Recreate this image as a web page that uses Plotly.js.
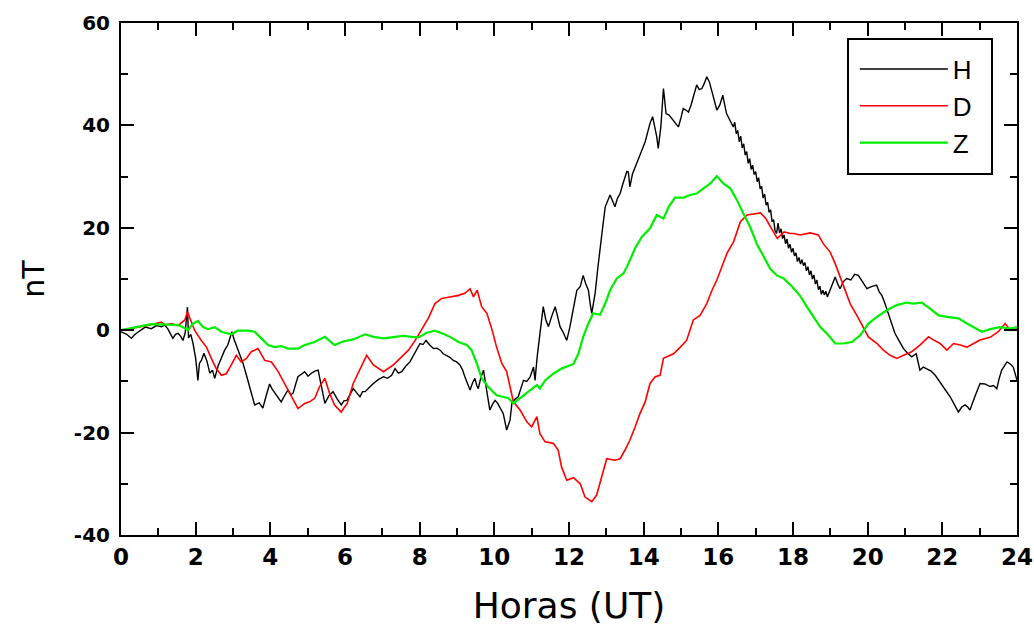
<!DOCTYPE html>
<html>
<head>
<meta charset="utf-8">
<script src="https://cdn.plot.ly/plotly-3.0.1.min.js"></script>
<style>html,body{margin:0;padding:0;background:#fff;}#chart{width:1034px;height:626px;}</style>
</head>
<body>
<div id="chart"></div>
<script>
// Hours (UT) and nT values
const H_t = [0,0.15,0.28,0.35,0.45,0.54,0.65,0.81,0.95,1.08,1.17,1.25,1.39,1.46,1.53,1.60,1.66,1.72,1.78,1.81,1.87,1.93,2.00,2.06,2.10,2.16,2.22,2.30,2.38,2.45,2.51,2.60,2.68,2.77,2.86,2.97,3.03,3.09,3.18,3.27,3.36,3.45,3.52,3.58,3.70,3.80,3.90,3.98,4.05,4.12,4.20,4.29,4.38,4.47,4.55,4.61,4.68,4.74,4.83,4.92,5.01,5.10,5.19,5.28,5.37,5.46,5.57,5.68,5.79,5.90,5.97,6.05,6.14,6.22,6.31,6.40,6.47,6.54,6.65,6.76,6.90,7.03,7.14,7.25,7.34,7.43,7.52,7.63,7.74,7.83,7.92,8.01,8.09,8.17,8.27,8.37,8.46,8.55,8.63,8.72,8.81,8.90,8.99,9.08,9.15,9.21,9.28,9.35,9.42,9.48,9.53,9.57,9.64,9.71,9.80,9.88,9.95,10.02,10.09,10.15,10.24,10.33,10.38,10.42,10.47,10.55,10.64,10.71,10.78,10.87,10.96,11.05,11.09,11.15,11.21,11.31,11.38,11.45,11.54,11.63,11.70,11.76,11.85,11.94,12.02,12.07,12.12,12.21,12.30,12.38,12.45,12.52,12.57,12.61,12.66,12.70,12.77,12.83,12.90,12.97,13.04,13.10,13.17,13.23,13.30,13.37,13.44,13.50,13.55,13.59,13.63,13.70,13.77,13.84,13.90,13.97,14.04,14.10,14.17,14.24,14.30,14.35,14.39,14.46,14.53,14.57,14.60,14.68,14.75,14.84,14.93,15.00,15.06,15.13,15.20,15.27,15.33,15.42,15.49,15.56,15.63,15.69,15.76,15.82,15.90,15.96,16.04,16.12,16.17,16.22,16.31,16.40,16.44,16.48,16.52,16.56,16.60,16.64,16.68,16.72,16.76,16.80,16.84,16.88,16.92,16.96,17.00,17.04,17.08,17.12,17.16,17.20,17.24,17.28,17.32,17.36,17.40,17.44,17.48,17.52,17.56,17.60,17.64,17.68,17.72,17.76,17.80,17.84,17.88,17.92,17.96,18.00,18.04,18.08,18.12,18.16,18.20,18.24,18.28,18.32,18.36,18.40,18.44,18.48,18.52,18.56,18.60,18.64,18.68,18.72,18.76,18.80,18.84,18.88,18.92,18.96,19.04,19.13,19.20,19.26,19.35,19.44,19.55,19.65,19.75,19.87,19.98,20.10,20.24,20.31,20.38,20.45,20.51,20.62,20.73,20.85,20.96,21.07,21.18,21.30,21.35,21.40,21.49,21.58,21.70,21.81,21.92,22.03,22.12,22.21,22.32,22.43,22.52,22.61,22.68,22.74,22.87,23.01,23.14,23.28,23.37,23.46,23.52,23.59,23.66,23.73,23.82,23.90,24.0];
const H_v = [-0.3,-0.8,-1.6,-1.0,-0.4,0,0.6,0.3,0.9,0.65,1.0,0.3,-1.6,-0.8,-0.6,-1.2,-2,-0.5,4.5,-1.5,-0.8,-2.6,-5.5,-9.8,-6.5,-5.8,-4.5,-6.0,-8.4,-7.8,-9.4,-7.0,-5.5,-4.0,-2.9,-0.3,-1.8,-2.9,-4.5,-6.5,-8.8,-11,-13.0,-14.6,-14.2,-15.2,-12.5,-10.5,-11.5,-12.3,-13.2,-14,-12.8,-11.7,-12.6,-12.3,-10.5,-9.1,-8.6,-8.1,-9.0,-8.4,-8.0,-7.8,-11.0,-14.3,-12.8,-12.0,-13.4,-14.6,-13.8,-13.7,-12.5,-11.4,-12.2,-13.0,-12.0,-12.0,-11.2,-10.4,-9.6,-9.1,-9.4,-8.8,-7.5,-8.4,-8.1,-7.0,-6.2,-5.0,-3.9,-2.6,-2.8,-2.0,-2.9,-3.6,-3.5,-3.9,-4.6,-4.9,-5.3,-5.9,-6.2,-6.8,-7.8,-9.1,-10.5,-11.7,-10.2,-9.4,-10.8,-11.4,-9.2,-7.8,-12.0,-15.6,-14.5,-13.7,-14.3,-15.0,-16.3,-19.5,-18.5,-17.6,-14.3,-13.5,-13.0,-11.5,-9.8,-10.0,-9.1,-7.2,-9.8,-5.0,-1.3,4.6,2.0,0.7,2.8,4.6,2.5,0.7,-0.5,-2.0,0.5,2.6,3.9,7.8,8.5,10.7,9.0,7.8,5.0,3.3,5.5,7.2,12.0,16.3,20.0,24.1,25.5,26.4,25.2,24.1,25.8,26.7,28.5,29.9,31.0,30.9,28,30.5,31.9,33.0,34.5,35.5,36.8,38.6,40.4,41.7,39.5,37.8,35.5,39.7,47.2,44.5,42.3,42.0,41.3,40.5,39.7,41.5,43.3,43.0,42.6,44.0,45.6,47.9,47.0,47.2,48.3,49.5,48.5,46.9,44.5,43.0,44.0,45.9,44.0,42.3,41.0,39.7,40.6,38.4,39.0,36.8,37.9,35.6,36.4,34.2,34.9,32.6,33.5,31.4,32.2,30.4,31.0,29.0,29.8,27.6,28.1,25.8,26.6,24.4,25.0,23.0,23.5,21.2,21.6,19.4,18.9,20.9,19.0,19.8,17.9,18.6,16.9,17.8,16.0,16.8,15.2,16.0,14.5,15.1,13.4,14.2,12.9,13.8,12.6,13.2,11.6,12.4,10.8,11.6,10.0,10.8,9.0,9.8,7.9,8.6,7.0,7.8,6.9,7.6,6.5,7.2,8.5,10.4,9.0,8.1,9.5,10.1,9.8,10.9,10.7,9.4,8.1,8.5,8.8,7.5,6.8,5.5,4.2,1.8,-0.6,-2.2,-3.6,-4.5,-5.2,-4.6,-6.5,-7.8,-7.2,-7.5,-8.0,-8.8,-10.0,-11,-12.0,-13,-14.5,-16,-15.0,-14.6,-15.0,-15.6,-13.0,-10.4,-10.5,-11,-10.8,-11.4,-9.5,-7.8,-7.0,-6.2,-6.6,-7.2,-9.8];

const D_t = [0,0.2,0.46,0.72,0.9,1.08,1.2,1.35,1.53,1.71,1.78,1.85,1.97,2.15,2.29,2.42,2.55,2.69,2.82,2.95,3.09,3.22,3.36,3.49,3.67,3.85,4.03,4.21,4.38,4.56,4.74,4.92,5.05,5.19,5.32,5.46,5.59,5.72,5.90,5.96,6.06,6.22,6.40,6.58,6.76,7.03,7.29,7.47,7.70,7.88,8.05,8.23,8.41,8.59,8.81,9.04,9.21,9.35,9.44,9.54,9.66,9.80,9.93,10.06,10.20,10.33,10.42,10.51,10.69,10.87,11.00,11.14,11.22,11.36,11.58,11.71,11.80,11.94,12.12,12.30,12.43,12.61,12.74,12.88,13.01,13.23,13.37,13.50,13.63,13.77,13.90,14.04,14.17,14.31,14.44,14.53,14.62,14.80,14.98,15.15,15.33,15.51,15.69,15.83,15.96,16.10,16.23,16.41,16.59,16.77,16.95,17.13,17.27,17.40,17.58,17.76,17.92,18.03,18.19,18.46,18.68,18.81,18.99,19.13,19.26,19.40,19.53,19.71,19.89,20.02,20.25,20.42,20.60,20.78,20.96,21.18,21.40,21.63,21.76,21.94,22.12,22.30,22.48,22.66,22.84,23.01,23.28,23.50,23.68,23.82,24.0];
const D_v = [0,0.3,0.6,0.9,1.2,1.6,1.0,1.3,0.9,2.0,3.6,2.3,0,-2,-3.3,-5.5,-7.5,-8.8,-8.5,-6.8,-4.9,-6.2,-5.5,-4.2,-3.6,-5.9,-6.2,-8.1,-10.4,-13,-15.3,-14.3,-14.0,-13.3,-11,-9.4,-12.4,-14.6,-16,-15.3,-14.3,-10.4,-7.5,-4.9,-6.8,-8.1,-6.8,-5.5,-3.9,-2,0,2.3,5.2,6.2,6.5,6.8,7.2,8.1,6.5,7.8,4.6,3.3,0.3,-3.3,-6.5,-8.1,-11,-14,-15.6,-17.9,-18.9,-16.9,-20.2,-21.8,-22.1,-23.4,-26.7,-29.3,-28.8,-30,-32.6,-33.5,-32.2,-28.6,-25.1,-25.4,-25.1,-23.4,-21.5,-18.9,-16.3,-14,-10.4,-9.1,-8.8,-5.5,-5.2,-4.6,-3.3,-2,2,2.9,5.2,7.8,9.8,12.4,15,17.3,21.2,22.5,22.7,22.9,21.8,20.2,17.9,19.2,18.9,18.9,18.6,19,18.6,16.9,15.3,13,10.4,7.8,5.2,2.9,0.6,-1.3,-2.6,-3.9,-4.9,-5.5,-4.9,-4.2,-2.9,-1.3,-1.9,-2.6,-3.9,-2.6,-2.9,-3.3,-2.6,-1.9,-1.4,-0.3,1.3,0,0.3];

const Z_t = [0,0.37,0.81,1.26,1.53,1.66,1.79,1.93,2.06,2.20,2.33,2.51,2.69,2.95,3.13,3.40,3.58,3.76,3.94,4.12,4.29,4.47,4.74,4.92,5.19,5.46,5.72,5.95,6.22,6.54,6.76,7.03,7.29,7.56,7.79,7.97,8.19,8.41,8.63,8.81,9.04,9.26,9.39,9.53,9.66,9.84,10.06,10.24,10.38,10.51,10.69,10.92,11.14,11.22,11.36,11.58,11.80,11.98,12.12,12.25,12.38,12.52,12.65,12.83,12.97,13.10,13.28,13.46,13.59,13.77,13.95,14.17,14.35,14.53,14.67,14.84,15.07,15.24,15.42,15.60,15.78,15.96,16.14,16.32,16.50,16.67,16.85,17.03,17.21,17.39,17.57,17.75,17.98,18.19,18.37,18.55,18.73,18.95,19.13,19.35,19.58,19.80,20.02,20.25,20.51,20.78,21.05,21.22,21.45,21.67,21.90,22.12,22.43,22.66,22.84,23.06,23.28,23.55,23.82,24.0];
const Z_v = [0,0.6,1.2,1.1,1.0,0.6,0,1.3,1.8,0.6,0.2,0.6,-0.3,-0.8,-0.1,-0.1,-0.3,-1.6,-2.9,-3.3,-3.1,-3.6,-3.6,-2.9,-2.3,-1.3,-2.9,-2.2,-1.8,-0.8,-1.3,-1.6,-1.4,-1.1,-1.3,-1.4,-0.5,-0.1,-0.7,-1.3,-2.3,-2.9,-3.9,-6.5,-9.4,-11.1,-12.7,-13,-13.3,-14.3,-13.3,-12,-10.7,-11.4,-9.8,-8.5,-7.5,-7.0,-6.6,-4.6,-1.3,1.3,3.3,3.0,5.2,7.8,10.1,11.1,13,16,18.2,19.9,22.5,21.8,24.1,25.9,25.9,26.4,26.7,27.7,28.6,30.1,28.6,27.7,25.4,22.8,20.2,16.9,14.3,12,10.7,10.1,8.5,6.7,4.6,2.6,0.6,-1,-2.6,-2.6,-2.3,-1,1.3,2.6,3.9,4.9,5.4,5.2,5.4,4.2,2.9,2.6,2.3,1.3,0.6,-0.3,0.2,0.6,0.3,0.6];

const yTickVals = [-40, -20, 0, 20, 40, 60];
const yTickText = ['-40', '-20', '0', '20', '40', '60'];

const names = ['H', 'D', 'Z'];
const colors = ['#000000', '#ff0000', '#00ee00'];
const widths = [1.4, 1.6, 2.2];
const xs = [H_t, D_t, Z_t];
const ys = [H_v, D_v, Z_v];

const traces = names.map((n, i) => ({
  x: xs[i], y: ys[i], name: n, type: 'scatter', mode: 'lines',
  line: {color: colors[i], width: widths[i]}
}));

const axisCommon = {
  showline: true, linecolor: '#000', linewidth: 2, mirror: 'ticks',
  ticks: 'inside', tickcolor: '#000', tickwidth: 2, ticklen: 13,
  showgrid: false, zeroline: false,
  minor: {ticks: 'inside', ticklen: 7, tickwidth: 2, tickcolor: '#000', showgrid: false}
};

const layout = {
  width: 1034, height: 626,
  margin: {l: 121, r: 17, t: 23, b: 91},
  paper_bgcolor: '#fff', plot_bgcolor: '#fff',
  showlegend: true,
  legend: {
    x: 0.819, y: 0.956, xanchor: 'left', yanchor: 'top',
    bgcolor: 'rgba(0,0,0,0)', borderwidth: 0,
    font: {family: 'Liberation Sans, Arial, sans-serif', size: 26, color: '#000'},
    itemwidth: 88, traceorder: 'normal'
  },
  shapes: [{
    type: 'rect', xref: 'paper', yref: 'paper',
    x0: 0.8114, x1: 0.9721, y0: 0.7051, y1: 0.9688,
    line: {color: '#000', width: 2}, fillcolor: '#fff', layer: 'below'
  }],
  xaxis: Object.assign({}, axisCommon, {
    range: [0, 24], tickmode: 'linear', tick0: 0, dtick: 2,
    minor: Object.assign({}, axisCommon.minor, {dtick: 1}),
    tickfont: {family: 'DejaVu Sans, sans-serif', size: 23, weight: 'bold', color: '#000'},
    title: {text: 'Horas (UT)', font: {family: 'DejaVu Sans, sans-serif', size: 36, color: '#000'}, standoff: 25}
  }),
  yaxis: Object.assign({}, axisCommon, {
    range: [-40, 60], tickmode: 'array', tickvals: yTickVals, ticktext: yTickText,
    minor: Object.assign({}, axisCommon.minor, {tickmode: 'linear', tick0: -40, dtick: 10}),
    tickfont: {family: 'DejaVu Sans, sans-serif', size: 20, weight: 'bold', color: '#000'},
    ticklabelstandoff: 5,
    title: {text: 'nT', font: {family: 'DejaVu Sans, sans-serif', size: 30, color: '#000'}, standoff: 20}
  })
};

Plotly.newPlot('chart', traces, layout, {displayModeBar: false, staticPlot: true});
</script>
</body>
</html>
